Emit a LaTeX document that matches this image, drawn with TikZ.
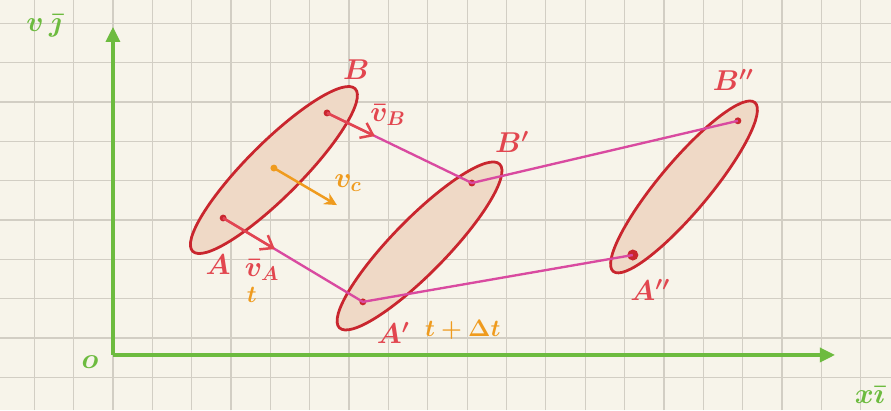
\documentclass[tikz,border=0pt]{standalone}
\usepackage{amsmath}
\usetikzlibrary{calc, arrows.meta}

\definecolor{paper}{HTML}{F7F4EA}
\definecolor{gridgray}{HTML}{D2CEC4}
\definecolor{axisgreen}{HTML}{6DBB3F}
\definecolor{bodyred}{HTML}{C9262E}
\definecolor{bodyfill}{HTML}{EFD9C6}
\definecolor{pathpink}{HTML}{D94AA0}
\definecolor{labelred}{HTML}{E2464F}
\definecolor{timeorange}{HTML}{EF9B1E}

\tikzset{
  axis/.style={axisgreen, line width=2.8pt, -{Triangle[length=11pt, width=10pt]}},
  body/.style={draw=bodyred, fill=bodyfill, line width=2pt},
  pt/.style={circle, fill=bodyred, inner sep=0pt, minimum size=5pt},
  track/.style={pathpink, line width=1.7pt},
  vecarrow/.style={labelred, line width=1.8pt, -{Straight Barb[length=8pt, width=12pt]}},
  redlabel/.style={labelred, font=\huge\boldmath},
  timelabel/.style={timeorange, font=\LARGE\boldmath}
}

\begin{document}
\begin{tikzpicture}
  \useasboundingbox (-2.87,-1.40) rectangle (19.77,9.02);
  \fill[paper] (-2.87,-1.40) rectangle (19.77,9.02);
  % grid paper
  \foreach \x in {-2,...,19}
    \draw[gridgray, line width=0.9pt] (\x,-1.40) -- (\x,9.02);
  \foreach \y in {-0.57,0.43,...,8.5}
    \draw[gridgray, line width=0.9pt] (-2.87,\y) -- (19.77,\y);

  % axes
  \coordinate (O) at (0,0);
  \draw[axis] (O) -- (0,8.34);
  \draw[axis] (O) -- (18.35,0);
  \node[axisgreen, font=\huge\boldmath] (lo) at (-0.58,-0.18) {$o$};
  \node[axisgreen, font=\huge\boldmath] (ly) at (-1.75,8.36) {$v\,\bar{\jmath}$};
  \node[axisgreen, font=\huge\boldmath, anchor=east] (lx) at (19.74,-1.02) {$x\bar{\imath}$};

  % the body at three instants
  \draw[body] (4.09,4.70) ellipse[x radius=2.92, y radius=0.69, rotate=45];
  \draw[body] (7.79,2.77) ellipse[x radius=2.91, y radius=0.69, rotate=45.6];
  \draw[body] (14.51,4.27) ellipse[x radius=2.80, y radius=0.64, rotate=50];

  \node[pt] (A) at (2.80,3.48) {};
  \node[pt] (B) at (5.44,6.15) {};
  \node[pt] (A1) at (6.35,1.35) {};
  \node[pt] (B1) at (9.12,4.37) {};
  \node[pt, minimum size=8pt] (A2) at (13.21,2.54) {};
  \node[pt] (B2) at (15.88,5.95) {};

  % trajectories of A and B
  \draw[track] (A.center) -- (A1.center) -- (A2.center);
  \draw[track] (B.center) -- (B1.center) -- (B2.center);

  % velocities
  \draw[vecarrow] (A.center) -- ($(A)!0.37!(A1)$);
  \draw[vecarrow] (B.center) -- ($(B)!0.33!(B1)$);
  \coordinate (C) at (4.09,4.75);
  \draw[timeorange, line width=1.8pt, -{Stealth[length=9pt, width=9pt]}] (C) -- (5.69,3.81);
  \fill[timeorange] (C) circle (2.5pt);

  % labels
  \node[redlabel] (lA) at (2.67,2.29) {$A$};
  \node[redlabel] (lB) at (6.18,7.24) {$B$};
  \node[redlabel] (lvA) at (3.79,2.16) {$\bar{v}_A$};
  \node[redlabel] (lvB) at (6.99,6.10) {$\bar{v}_B$};
  \node[timeorange, font=\huge\boldmath] (lvc) at (5.97,4.37) {$v_c$};
  \node[redlabel] (lA1) at (7.12,0.56) {$A'$};
  \node[redlabel] (lB1) at (10.14,5.41) {$B'$};
  \node[redlabel] (lA2) at (13.65,1.65) {$A''$};
  \node[redlabel] (lB2) at (15.76,6.99) {$B''$};
  \node[timelabel] (lt) at (3.53,1.52) {$t$};
  \node[timelabel] (ltdt) at (8.89,0.64) {$t+\Delta t$};
\end{tikzpicture}
\end{document}
